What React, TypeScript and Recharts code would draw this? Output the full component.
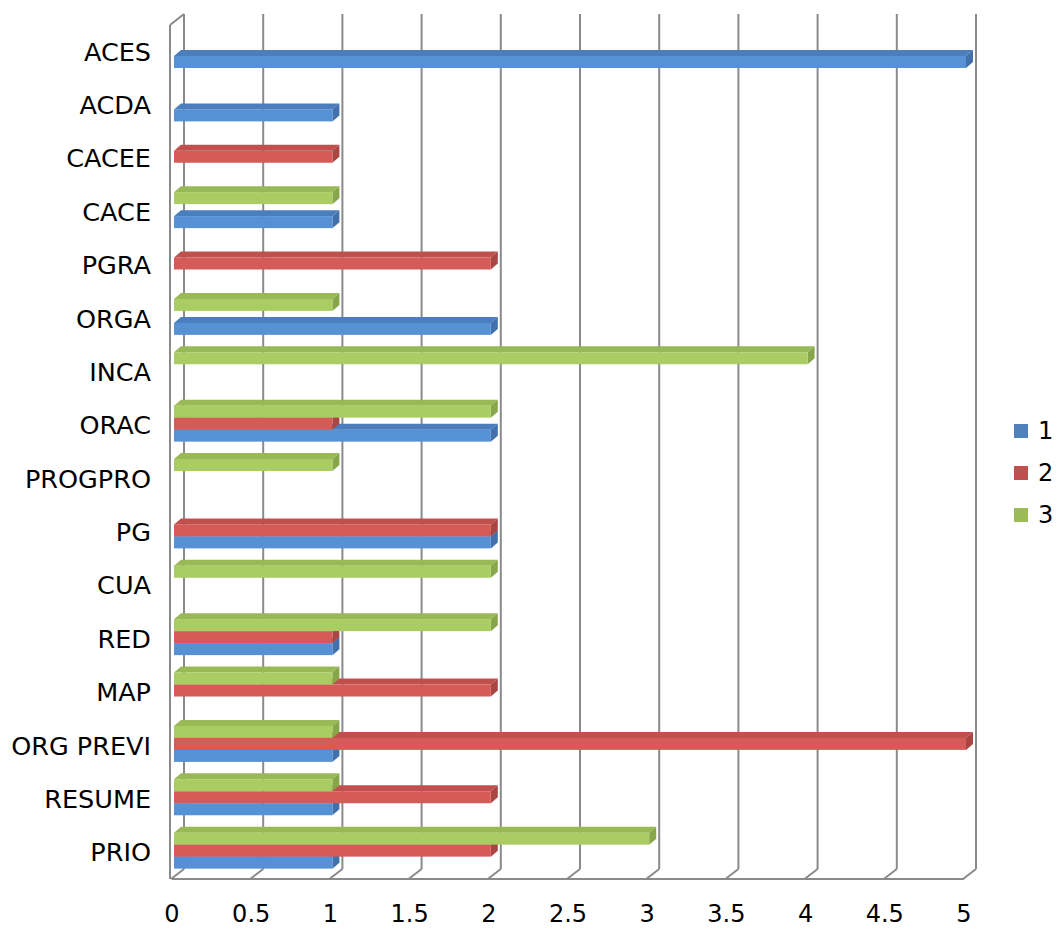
import { BarChart, Bar, XAxis, YAxis, CartesianGrid, Legend } from 'recharts'

const categories = [
  'ACES', 'ACDA', 'CACEE', 'CACE', 'PGRA', 'ORGA', 'INCA', 'ORAC',
  'PROGPRO', 'PG', 'CUA', 'RED', 'MAP', 'ORG PREVI', 'RESUME', 'PRIO',
]
const series1 = [5, 1, 0, 1, 0, 2, 0, 2, 0, 2, 0, 1, 0, 1, 1, 1]
const series2 = [0, 0, 1, 0, 2, 0, 0, 1, 0, 2, 0, 1, 2, 5, 2, 2]
const series3 = [0, 0, 0, 1, 0, 1, 4, 2, 1, 0, 2, 2, 1, 1, 1, 3]
const xTicks = [0, 0.5, 1, 1.5, 2, 2.5, 3, 3.5, 4, 4.5, 5]

const FONT = '"DejaVu Sans", Verdana, sans-serif'
const GRID = '#8a8a8a'
const DEPTH_X = 12
const DEPTH_Y = 11

const FACES: Record<string, { front: string; top: string; side: string }> = {
  '#4F81BD': { front: '#5690D5', top: '#4A7EBD', side: '#4170AA' },
  '#C0504D': { front: '#D65A57', top: '#BF504D', side: '#A84644' },
  '#9BBB59': { front: '#A9CC63', top: '#98B955', side: '#86A649' },
}

const data = categories.map((name, i) => ({
  name,
  s1: series1[i],
  s2: series2[i],
  s3: series3[i],
}))

// bars are positioned 1,2,3 top->bottom by recharts; shift so 1 sits lowest
// while keeping draw order (lower bars first, upper bars cover their top faces)
function makeBar3D(base: string, shift: number) {
  const f = FACES[base]
  return (props: any) => {
    const { x, y, width, height } = props
    if (!(width > 0.5)) return <g />
    const fx = x + 2
    const fy = y - 2 + shift
    const d = 7
    const e = 6
    return (
      <g>
        <polygon
          points={`${fx},${fy} ${fx + d},${fy - e} ${fx + width + d},${fy - e} ${fx + width},${fy}`}
          fill={f.top}
        />
        <polygon
          points={`${fx + width},${fy} ${fx + width + d},${fy - e} ${fx + width + d},${fy + height - e} ${fx + width},${fy + height}`}
          fill={f.side}
        />
        <rect x={fx} y={fy} width={width} height={height} fill={f.front} />
      </g>
    )
  }
}

function GridLine(props: any) {
  const { x1, y1, y2, index } = props
  const bx = x1 + DEPTH_X
  const top = y1 - DEPTH_Y
  const bottom = y2 - DEPTH_Y + 1
  return (
    <g key={`g-${index}`}>
      <line x1={bx} y1={top} x2={bx} y2={bottom} stroke={GRID} strokeWidth={2} />
      <line x1={bx} y1={bottom} x2={x1 - 1} y2={y2} stroke={GRID} strokeWidth={2} />
      {index === 0 && (
        <>
          <line x1={x1 - 2} y1={y1} x2={x1 - 2} y2={y2} stroke={GRID} strokeWidth={2} />
          <line x1={x1 - 2} y1={y1} x2={bx} y2={top} stroke={GRID} strokeWidth={2} />
        </>
      )}
    </g>
  )
}

function LegendBox({ payload }: any) {
  return (
    <div style={{ fontFamily: FONT, fontSize: 24, color: '#000' }}>
      {(payload || []).map((p: any) => (
        <div key={p.value} style={{ display: 'flex', alignItems: 'center', height: 42 }}>
          <span
            style={{ display: 'inline-block', width: 14, height: 14, background: p.color, marginRight: 10 }}
          />
          {p.value}
        </div>
      ))}
    </div>
  )
}

export default function App() {
  return (
    <div style={{ position: 'absolute', left: 0, top: 0, background: '#fff' }}>
      <BarChart
        width={1050}
        height={929}
        data={data}
        layout="vertical"
        margin={{ top: 25, right: 86, bottom: 0, left: 0 }}
        barSize={12}
        barGap={0}
      >
        <CartesianGrid horizontal={false} vertical={GridLine} />
        <XAxis
          type="number"
          domain={[0, 5]}
          ticks={xTicks}
          interval={0}
          height={50}
          tickLine={false}
          axisLine={{ stroke: GRID, strokeWidth: 2 }}
          tickMargin={20}
          tick={{ fill: '#000', fontSize: 24, fontFamily: FONT }}
        />
        <YAxis
          type="category"
          dataKey="name"
          width={172}
          interval={0}
          tickLine={false}
          axisLine={false}
          tickMargin={15}
          tick={{ fill: '#000', fontSize: 25.5, fontFamily: FONT }}
        />
        <Legend
          layout="horizontal"
          verticalAlign="middle"
          align="center"
          content={LegendBox}
          wrapperStyle={{ left: 1014, top: 410, width: 44 }}
        />
        <Bar dataKey="s1" name="1" fill="#4F81BD" shape={makeBar3D('#4F81BD', 24)} isAnimationActive={false} />
        <Bar dataKey="s2" name="2" fill="#C0504D" shape={makeBar3D('#C0504D', 0)} isAnimationActive={false} />
        <Bar dataKey="s3" name="3" fill="#9BBB59" shape={makeBar3D('#9BBB59', -24)} isAnimationActive={false} />
      </BarChart>
    </div>
  )
}
